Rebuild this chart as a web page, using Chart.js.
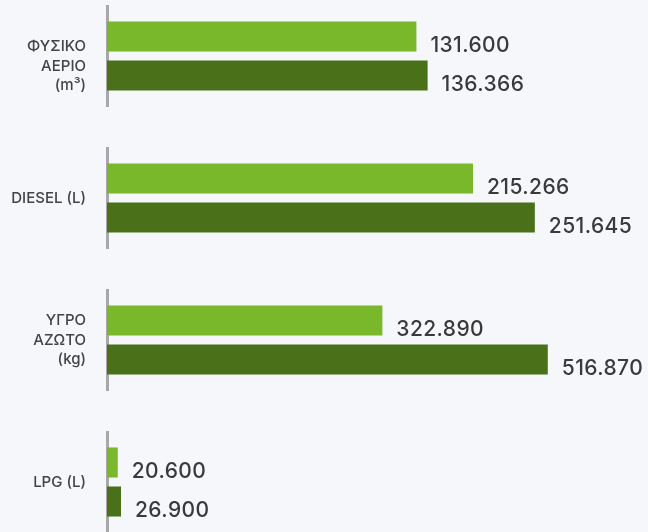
<!doctype html>
<html>
<head>
  <meta charset="utf-8" />
  <title>Κατανάλωση</title>
  <style>
    html,body{margin:0;padding:0;background:#f5f7fb;overflow:hidden}
    body{width:648px;height:532px;position:relative;font-family:Inter, "Noto Sans", sans-serif}
    canvas{position:absolute;left:0}
  </style>
</head>
<body>
  <canvas id="c0" width="648" height="102" style="top:5px"></canvas>
  <canvas id="c1" width="648" height="102" style="top:147px"></canvas>
  <canvas id="c2" width="648" height="102" style="top:289px"></canvas>
  <canvas id="c3" width="648" height="102" style="top:431px"></canvas>

  <script src="https://cdn.jsdelivr.net/npm/chart.js@4.4.1/dist/chart.umd.min.js"></script>
  <script>
    // one small chart per fuel, each with its own scale
    const categories = [['ΦΥΣΙΚΟ', 'ΑΕΡΙΟ', '(m³)'], ['DIESEL (L)'], ['ΥΓΡΟ', 'ΑΖΩΤΟ', '(kg)'], ['LPG (L)']];
    const seriesA = [131600, 215266, 322890, 20600];
    const seriesB = [136366, 251645, 516870, 26900];
    const axisMax = [226700, 313500, 625000, 1022000];

    const lightGreen = '#78b82a';
    const darkGreen = '#4a7119';

    const fmt = v => String(v).replace(/\B(?=(\d{3})+(?!\d))/g, '.');

    const valueLabels = {
      id: 'valueLabels',
      afterDatasetsDraw(chart){
        const ctx = chart.ctx;
        ctx.save();
        ctx.font = '500 21px Inter, "Noto Sans", sans-serif';
        ctx.letterSpacing = '0.4px';
        ctx.fillStyle = '#3a3a3a';
        ctx.textAlign = 'left';
        ctx.textBaseline = 'alphabetic';
        chart.data.datasets.forEach((ds, i) => {
          chart.getDatasetMeta(i).data.forEach((el, j) => {
            const p = el.getProps(['x', 'y', 'height'], true);
            ctx.fillText(fmt(ds.data[j]), p.x + 14, p.y + p.height / 2);
          });
        });
        ctx.restore();
      }
    };

    categories.forEach((cat, k) => {
      new Chart(document.getElementById('c' + k), {
        type: 'bar',
        data: {
          labels: [cat],
          datasets: [
            { data: [seriesA[k]], backgroundColor: lightGreen },
            { data: [seriesB[k]], backgroundColor: darkGreen }
          ]
        },
        options: {
          indexAxis: 'y',
          responsive: false,
          animation: false,
          categoryPercentage: 0.765,
          barPercentage: 0.77,
          layout: { padding: { right: 8 } },
          plugins: { legend: { display: false }, tooltip: { enabled: false } },
          scales: {
            x: { display: false, min: 0, max: axisMax[k] },
            y: {
              grid: { display: false, drawTicks: false },
              border: { display: true, color: '#a8a8a8', width: 3 },
              ticks: {
                color: '#444',
                padding: 21,
                labelOffset: k === 0 ? 10 : 0,
                font: { family: 'Inter, "Noto Sans", sans-serif', size: 15, weight: '500', lineHeight: 1.3 }
              },
              afterFit(scale){
                scale.width = 107;
                scale.paddingTop = 0;
                scale.paddingBottom = 0;
              }
            }
          }
        },
        plugins: [valueLabels]
      });
    });
  </script>
</body>
</html>
